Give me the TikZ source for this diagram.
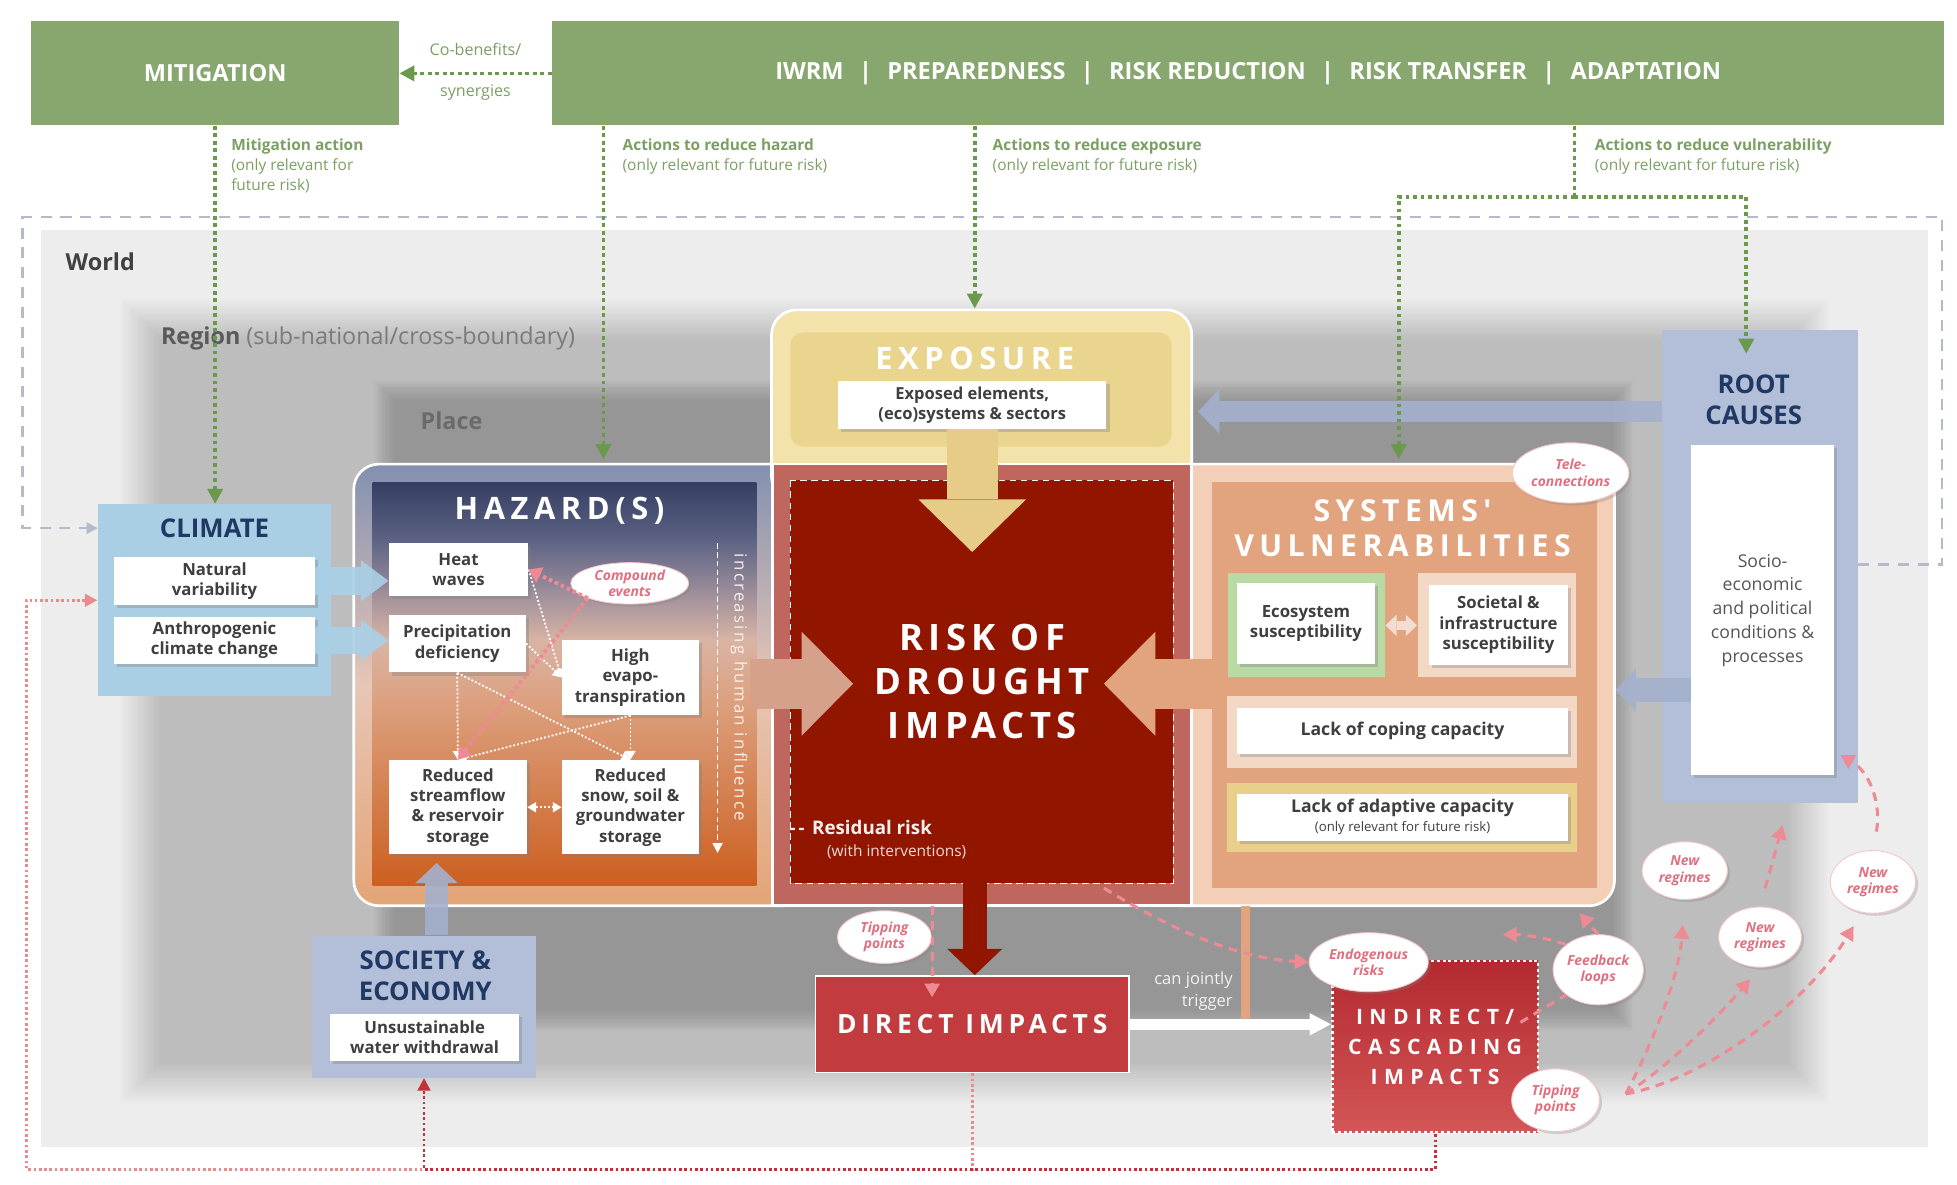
\documentclass[tikz,border=0pt]{standalone}
\usepackage{fontspec}
\setmainfont{Open Sans}
\newfontfamily\spacedfont{Open Sans}[LetterSpace=18]
\usetikzlibrary{positioning,shapes.geometric,arrows.meta,shadows,calc,fit}

\definecolor{mgreen}{HTML}{87A76E}
\definecolor{lgreen}{HTML}{7CA062}
\definecolor{dgreen}{HTML}{6A994B}
\definecolor{worldg}{HTML}{EDEDED}
\definecolor{climblue}{HTML}{AACFE4}
\definecolor{climarrow}{HTML}{A9D0E7}
\definecolor{navy}{HTML}{1F3864}
\definecolor{rootblue}{HTML}{B3BFD8}
\definecolor{rootarrow}{HTML}{A4B1CE}
\definecolor{rimtop}{HTML}{8290B0}
\definecolor{rimmid}{HTML}{E7C6B6}
\definecolor{rimbot}{HTML}{E4A476}
\definecolor{hz1}{HTML}{363F63}
\definecolor{hz2}{HTML}{5C6384}
\definecolor{hz3}{HTML}{9A8C9A}
\definecolor{hz4}{HTML}{D9B4A4}
\definecolor{hz5}{HTML}{DCA07E}
\definecolor{hz6}{HTML}{CC5F20}
\definecolor{riskfr}{HTML}{BF675F}
\definecolor{riskin}{HTML}{921500}
\definecolor{expofr}{HTML}{F3E3AA}
\definecolor{expoin}{HTML}{EAD58F}
\definecolor{expoarrow}{HTML}{E6CC86}
\definecolor{vulnfr}{HTML}{F2CFB6}
\definecolor{vulnin}{HTML}{E1A47F}
\definecolor{hzarrow}{HTML}{D5A18A}
\definecolor{ecogreen}{HTML}{B9D9A5}
\definecolor{peachfr}{HTML}{F4D8C6}
\definecolor{adaptfr}{HTML}{E9D08A}
\definecolor{dblarrow}{HTML}{F2DDD0}
\definecolor{directred}{HTML}{C23B3E}
\definecolor{indtop}{HTML}{B3292F}
\definecolor{indbot}{HTML}{D45657}
\definecolor{pinkline}{HTML}{EE8A94}
\definecolor{pinktxt}{HTML}{E0707F}
\definecolor{pinkdot}{HTML}{E98A8C}
\definecolor{reddot}{HTML}{C2303A}
\definecolor{framegrey}{HTML}{B4B9CC}
\definecolor{txtgrey}{HTML}{3F3F3F}
\definecolor{worldtxt}{HTML}{404040}
\definecolor{regiontxt}{HTML}{5A5A5A}
\definecolor{regionsub}{HTML}{7A7A7A}
\definecolor{placetxt}{HTML}{6A6A6A}
\definecolor{infltxt}{HTML}{FAF0EA}
\definecolor{roottxt}{HTML}{555555}

\newcommand{\barsep}{\hspace{0.65em}|\hspace{0.65em}}

\tikzset{
  wbox/.style={fill=white, inner sep=1pt, align=center, text=txtgrey,
    font=\fontsize{7.6}{9.2}\selectfont\bfseries,
    drop shadow={opacity=0.35, shadow xshift=0.5mm, shadow yshift=-0.5mm}},
  bubble/.style={ellipse, fill=white, draw=pinkline!50, line width=0.4pt,
    inner sep=0pt, align=center, text=pinktxt,
    font=\fontsize{6.3}{7.4}\selectfont\bfseries\itshape,
    drop shadow={opacity=0.3, shadow xshift=0.4mm, shadow yshift=-0.4mm}},
  panel/.style={inner sep=0pt, draw=none},
  navytitle/.style={align=center, text=navy, inner sep=0pt,
    font=\fontsize{11.7}{14.2}\selectfont\bfseries},
  wtitle/.style={align=center, text=white, inner sep=0pt},
  greenlab/.style={anchor=north west, align=left, text=lgreen, inner sep=0pt,
    font=\fontsize{7}{9.1}\selectfont},
  gdot/.style={dgreen, line width=1.7pt, dash pattern=on 1.7pt off 1.7pt,
    -{Triangle[length=2.4mm, width=2.4mm]}},
  wdot/.style={white, line width=0.8pt, dash pattern=on 0.9pt off 0.9pt,
    -{Triangle[length=1.4mm, width=1.6mm]}},
  pdot/.style={pinkline, line width=1.8pt, dash pattern=on 1.6pt off 1.4pt,
    -{Triangle[length=2mm, width=2.6mm]}},
  pdash/.style={pinkline, line width=1.4pt, dash pattern=on 4pt off 3pt,
    -{Triangle[length=2.2mm, width=2.4mm]}},
  barrow/.style n args={3}{line width=#1,
    -{Triangle[length=#2, width=#3, line width=0pt]}}
}

\begin{document}
\begin{tikzpicture}[x=0.2mm, y=-0.2mm]

    \useasboundingbox (0,0) rectangle (1560,944);
    \fill[white] (0,0) rectangle (1560,944);
    \fill[worldg] (33,183) rectangle (1537,914);
    \foreach \i in {0,...,23}
      \fill[black, opacity=0.0088] ({95+1.4*\i},{238+1.4*\i}) rectangle ({1458-1.4*\i},{880-1.4*\i});
    \foreach \i in {0,...,15}
      \fill[black, opacity=0.0114] ({298+1.1*\i},{303+1.1*\i}) rectangle ({1302-1.1*\i},{822-1.1*\i});

    \node[anchor=west, inner sep=0pt, text=worldtxt, font=\fontsize{10.6}{12}\selectfont\bfseries] (worldl) at (52,209) {World};
    \node[anchor=west, inner sep=0pt, font=\fontsize{10.6}{12}\selectfont] (regionl) at (128,270)
      {\textcolor{regiontxt}{\bfseries Region} \textcolor{regionsub}{(sub-national/cross-boundary)}};
    \node[anchor=west, inner sep=0pt, text=placetxt, font=\fontsize{10.6}{12}\selectfont\bfseries] (placel) at (335,335) {Place};

    \node[panel, fill=climblue, fit={(78,402) (264,555)}] (clim) {};
    \node[panel, fill=rootblue, fit={(1325,263) (1481,640)}] (rootp) {};
    \node[panel, fill=rootblue, fit={(249,746) (427,859)}] (socp) {};

    \shadedraw[top color=rimtop, bottom color=rimbot, middle color=rimmid, draw=white, line width=1.2pt, rounded corners=4mm]
      (282,370) rectangle (645,722);
    \filldraw[fill=expofr, draw=white, line width=1.2pt, rounded corners=4mm] (615,247) rectangle (950,400);
    \filldraw[fill=vulnfr, draw=white, line width=1.2pt, rounded corners=4mm] (920,370) rectangle (1287,722);
    \shade[top color=hz1, bottom color=hz2] (297,385) rectangle (603,431);
    \shade[top color=hz2, bottom color=hz3] (297,430) rectangle (603,471);
    \shade[top color=hz3, bottom color=hz4] (297,470) rectangle (603,511);
    \shade[top color=hz4, bottom color=hz5] (297,510) rectangle (603,561);
    \shade[top color=hz5, bottom color=hz6] (297,560) rectangle (603,706);
    \filldraw[fill=riskfr, draw=white, line width=1.2pt] (616,370) rectangle (950,722);
    \filldraw[fill=riskin, draw=white, line width=0.4pt, densely dashed] (630,383) rectangle (935,704);
    \fill[expoin, rounded corners=2mm] (630,265) rectangle (934,356);
    \fill[vulnin] (966,384) rectangle (1273,708);
    \node[panel, fill=ecogreen, fit={(979,457) (1104,540)}] (ecofr) {};
    \node[panel, fill=peachfr, fit={(1130,457) (1256,540)}] (socfr) {};
    \node[panel, fill=peachfr, fit={(978,555) (1257,612)}] (copefr) {};
    \node[panel, fill=adaptfr, fit={(978,624) (1257,679)}] (adaptfr) {};

    \node[navytitle] (climt) at (171,421) {CLIMATE};
    \node[wbox, minimum width=32mm, minimum height=7.6mm] (natvar) at (171,463) {Natural\\variability};
    \node[wbox, minimum width=32mm, minimum height=7.4mm] (anthro) at (171,510.5) {Anthropogenic\\climate change};

    \node[wtitle, font=\spacedfont\fontsize{14}{16}\selectfont\bfseries] (hazt) at (446,407) {HAZARD(S)};
    \node[wbox, minimum width=22.2mm, minimum height=8.4mm] (heat) at (365.5,454) {Heat\\waves};
    \node[wbox, minimum width=21.8mm, minimum height=9.2mm] (precip) at (364.5,513) {Precipitation\\deficiency};
    \node[wbox, minimum width=21.8mm, minimum height=12mm] (evapo) at (502.5,540) {High\\evapo-\\transpiration};
    \node[wbox, minimum width=22mm, minimum height=15mm] (stream) at (365,643.5) {Reduced\\streamflow\\\& reservoir\\storage};
    \node[wbox, minimum width=21.8mm, minimum height=15mm] (snow) at (502.5,643.5) {Reduced\\snow, soil \&\\groundwater\\storage};
    \node[bubble, minimum width=18.8mm, minimum height=6.6mm] (cmpd) at (502,465) {Compound\\events};
    \node[rotate=-90, inner sep=0pt, text=infltxt, font=\spacedfont\addfontfeature{LetterSpace=14}\fontsize{7.6}{8}\selectfont] (infl) at (589,548)
      {increasing human influence};

    \node[wtitle, font=\spacedfont\fontsize{14}{16}\selectfont\bfseries] (expot) at (777,286) {EXPOSURE};
    \node[wbox, minimum width=42.8mm, minimum height=7.6mm, font=\fontsize{7.5}{9}\selectfont\bfseries] (expobox) at (775,323)
      {Exposed elements,\\(eco)systems \& sectors};

    \node[wtitle, font=\spacedfont\addfontfeature{LetterSpace=15}\fontsize{16.5}{20}\selectfont\bfseries] (riskt) at (783,543)
      {RISK OF\\DROUGHT\\IMPACTS};
    \node[anchor=west, inner sep=0pt, text=white!90!riskfr, font=\fontsize{8.5}{10}\selectfont\bfseries] (resid) at (629,660)
      {-\,-\hspace{0.4em}Residual risk};
    \node[anchor=west, inner sep=0pt, text=white!75!riskfr, font=\fontsize{7}{9}\selectfont] (withint) at (659,679) {(with interventions)};

    \node[wtitle, font=\spacedfont\fontsize{13.7}{16}\selectfont\bfseries] (vult) at (1118,421) {SYSTEMS'\\VULNERABILITIES};
    \node[wbox, minimum width=22mm, minimum height=12.8mm] (eco) at (1041,497) {Ecosystem\\susceptibility};
    \node[wbox, minimum width=22.2mm, minimum height=12.8mm] (soc) at (1194.5,498) {Societal \&\\infrastructure\\susceptibility};
    \node[wbox, minimum width=52.8mm, minimum height=7.4mm, font=\fontsize{8}{9.5}\selectfont\bfseries] (cope) at (1118,582.5)
      {Lack of coping capacity};
    \node[wbox, minimum width=52.8mm, minimum height=7.4mm, font=\fontsize{8}{8.6}\selectfont\bfseries] (adapt) at (1118,651.5)
      {Lack of adaptive capacity\\{\fontsize{6}{7}\selectfont\mdseries (only relevant for future risk)}};

    \node[navytitle] (roott) at (1398,318.5) {ROOT\\CAUSES};
    \node[wbox, minimum width=22.8mm, minimum height=52.6mm, text=roottxt, font=\fontsize{8}{10.8}\selectfont] (rootbox) at (1405,486.5)
      {Socio-\\economic\\and political\\conditions \&\\processes};

    \node[navytitle] (soct) at (339,778) {SOCIETY \&\\ECONOMY};
    \node[wbox, minimum width=30.2mm, minimum height=7.6mm] (withd) at (338.5,827) {Unsustainable\\water withdrawal};

    \node[fill=directred, draw=white, line width=0.8pt, minimum width=50mm, minimum height=15.4mm, text=white,
      font=\spacedfont\fontsize{12}{14}\selectfont\bfseries] (direct) at (775,816.5) {DIRECT IMPACTS};
    \node[top color=indtop, bottom color=indbot, draw=white, line width=1.3pt, dash pattern=on 1.3pt off 1.3pt,
      minimum width=32.8mm, minimum height=27.4mm, text=white, align=center,
      font=\spacedfont\addfontfeature{LetterSpace=30}\fontsize{9.6}{13.7}\selectfont\bfseries] (indirect) at (1144,834.5)
      {INDIRECT/\\CASCADING\\IMPACTS};
    \node[anchor=east, align=right, inner sep=0pt, text=white!95!black, font=\fontsize{7.5}{10.2}\selectfont] (jointly) at (983,790)
      {can jointly\\trigger};

    \coordinate (hzR) at (598,545);
    \coordinate (rkL) at (680,545);
    \coordinate (rkR) at (880,545);
    \coordinate (vuL) at (968,545);
    \coordinate (expoTip) at (777,440);
    \coordinate (rkS) at (777,700);
    \coordinate (socUp) at (348,688);
    \coordinate (expoR) at (955,328);
    \coordinate (vulnR) at (1288,550);
    \coordinate (vtA) at (993,722);
    \coordinate (vtB) at (993,812);

    \draw[barrow={4.4mm}{4.4mm}{6.6mm}, draw=climarrow, opacity=0.9] (natvar.east) -- (natvar.east -| heat.west);
    \draw[barrow={4.4mm}{4.4mm}{6.6mm}, draw=climarrow, opacity=0.9] (anthro.east) -- (anthro.east -| precip.west);
    \draw[barrow={8mm}{8.2mm}{16.6mm}, draw=hzarrow] (hzR) -- (rkL);
    \draw[barrow={8mm}{8.2mm}{16.6mm}, draw=vulnin] (vuL) -- (rkR);
    \draw[barrow={8.2mm}{8.4mm}{17.2mm}, draw=expoarrow] (expobox.south) -- (expobox.south |- expoTip);
    \draw[barrow={3.8mm}{4.2mm}{8.8mm}, draw=riskin] (rkS) -- (direct.north -| rkS);
    \draw[barrow={3.8mm}{3.2mm}{6.8mm}, draw=rootarrow, opacity=0.9] (socp.north -| socUp) -- (socUp);
    \draw[barrow={3.4mm}{3.4mm}{7mm}, draw=rootarrow, opacity=0.9] (rootp.west |- expoR) -- (expoR);
    \draw[barrow={3.8mm}{3.2mm}{7mm}, draw=rootarrow, opacity=0.9] (rootbox.west |- vulnR) -- (vulnR);
    \draw[line width=1.5mm, draw=dblarrow, {Triangle[length=1.8mm, width=3.4mm, line width=0pt]}-{Triangle[length=1.8mm, width=3.4mm, line width=0pt]}]
      (ecofr.east) -- (ecofr.east -| socfr.west);
    \draw[vulnin, line width=1.5mm] (vtA) -- (vtB);
    \draw[barrow={1.7mm}{3.4mm}{3.6mm}, draw=white] (direct.east) -- (direct.east -| indirect.west);

    \coordinate (inflT) at (572,433);
    \coordinate (inflB) at (572,680);
    \draw[white, line width=0.8pt, dash pattern=on 2.5pt off 1.5pt, -{Triangle[length=1.6mm, width=1.6mm]}] (inflT) -- (inflB);
    \draw[wdot] (heat.east) -- (evapo.west);
    \draw[wdot] (precip.east) -- (evapo.west);
    \draw[wdot] (precip.south) -- (stream.north);
    \draw[wdot] (precip.south) -- (snow.north);
    \draw[wdot] (evapo.south) -- (snow.north);
    \draw[wdot] (evapo.south) -- (stream.north);
    \draw[wdot, {Triangle[length=1.4mm, width=1.6mm]}-{Triangle[length=1.4mm, width=1.6mm]}] (stream.east) -- (snow.west);
    \draw[pdot] (cmpd.south west) -- (heat.east);
    \draw[pdot] (cmpd.south west) -- (stream.north);

    \node[bubble, minimum width=18.6mm, minimum height=9.6mm] (tele) at (1252,377) {Tele-\\connections};
    \node[bubble, minimum width=15mm, minimum height=8.4mm] (tip1) at (705,747) {Tipping\\points};
    \node[bubble, minimum width=19mm, minimum height=9.4mm] (endo) at (1091,767) {Endogenous\\risks};
    \node[bubble, minimum width=14.4mm, minimum height=11.2mm] (feed) at (1274,773) {Feedback\\loops};
    \node[bubble, minimum width=14mm, minimum height=10mm] (tip2) at (1240,877) {Tipping\\points};
    \node[bubble, minimum width=13.6mm, minimum height=9.2mm] (new1) at (1343,694) {New\\regimes};
    \node[bubble, minimum width=13.2mm, minimum height=9.6mm] (new2) at (1403,747) {New\\regimes};
    \node[bubble, minimum width=13.6mm, minimum height=10mm] (new3) at (1493,703) {New\\regimes};

    \coordinate (rkBR) at (880,708);
    \coordinate (tipA) at (743,722);
    \coordinate (tipB) at (743,795);
    \coordinate (indR) at (1212,815);
    \coordinate (fbL) at (1198,745);
    \coordinate (fbU) at (1259,728);
    \coordinate (tpo) at (1296,872);
    \coordinate (n2up) at (1421,658);
    \coordinate (rtIn) at (1467,602);
    \draw[pdash] (rkBR) .. controls (940,745) and (990,764) .. (endo.west);
    \draw[pdash] (tipA) -- (tipB);
    \draw[pdash, -] (indR) -- (feed.south west);
    \draw[pdash] (feed.north west) .. controls (1235,748) and (1215,745) .. (fbL);
    \draw[pdash] (feed.north) -- (fbU);
    \draw[pdash, shorten >=4mm] (tpo) .. controls (1318,830) and (1338,780) .. (new1.south);
    \draw[pdash, shorten >=2.4mm] (tpo) .. controls (1330,850) and (1370,810) .. (new2.south);
    \draw[pdash, shorten >=2.5mm] (tpo) .. controls (1360,860) and (1440,800) .. (new3.250);
    \draw[pdash, shorten <=3mm] (new2.north) -- (n2up);
    \draw[pdash, shorten <=3mm] (new3.north) .. controls (1500,640) and (1490,615) .. (rtIn);

    \coordinate (frIn) at (78,421);
    \coordinate (fr1) at (1548,450);
    \coordinate (fr2) at (18,173);
    \coordinate (botL) at (21,932);
    \draw[framegrey, line width=1pt, dash pattern=on 5pt off 4pt, -{Triangle[length=1.8mm, width=1.8mm]}]
      (rootp.east |- fr1) -- (fr1) |- (fr2) |- (frIn);
    \draw[pinkdot, line width=1.3pt, dash pattern=on 1.2pt off 1.2pt, -{Triangle[length=2mm, width=2mm]}]
      (direct.south) |- (botL) |- (clim.west);
    \draw[reddot, line width=1.3pt, dash pattern=on 1.2pt off 1.2pt, -{Triangle[length=2mm, width=2mm]}]
      (indirect.south) |- (socp.south |- botL) -- (socp.south);

    \node[fill=mgreen, minimum width=58.6mm, minimum height=16.6mm, text=white, font=\fontsize{10.7}{12}\selectfont\bfseries]
      (mitig) at (171.5,58.5) {MITIGATION};
    \node[fill=mgreen, minimum width=222mm, minimum height=16.6mm, text=white, font=\fontsize{10.7}{12}\selectfont\bfseries]
      (iwrm) at (995,58.5) {IWRM\barsep PREPAREDNESS\barsep RISK REDUCTION\barsep RISK TRANSFER\barsep ADAPTATION};
    \draw[gdot] (iwrm.west) -- node[above=2.5mm, inner sep=0pt, text=lgreen, font=\fontsize{7.3}{9}\selectfont] (cobe) {Co-benefits/}
      node[below=1.5mm, inner sep=0pt, text=lgreen, font=\fontsize{7.3}{9}\selectfont] (syne) {synergies} (mitig.east);

    \node[greenlab] (lmit) at (184,110) {\textbf{Mitigation action}\\(only relevant for\\future risk)};
    \node[greenlab] (lhaz) at (496,110) {\textbf{Actions to reduce hazard}\\(only relevant for future risk)};
    \node[greenlab] (lexp) at (791,110) {\textbf{Actions to reduce exposure}\\(only relevant for future risk)};
    \node[greenlab] (lvul) at (1271,110) {\textbf{Actions to reduce vulnerability}\\(only relevant for future risk)};

    \coordinate (hzin) at (481,366);
    \coordinate (expotop) at (777,246);
    \coordinate (vsplit) at (1255,157);
    \coordinate (vulntop) at (1115,366);
    \coordinate (roottop) at (1392,282);
    \draw[gdot] (mitig.south) -- (mitig.south |- clim.north);
    \draw[gdot] (iwrm.south -| hzin) -- (hzin);
    \draw[gdot] (iwrm.south -| expotop) -- (expotop);
    \draw[gdot, -] (iwrm.south -| vsplit) -- (vsplit);
    \draw[gdot] (vsplit) -| (vulntop);
    \draw[gdot] (vsplit) -| (roottop);

  \end{tikzpicture}
\end{document}
